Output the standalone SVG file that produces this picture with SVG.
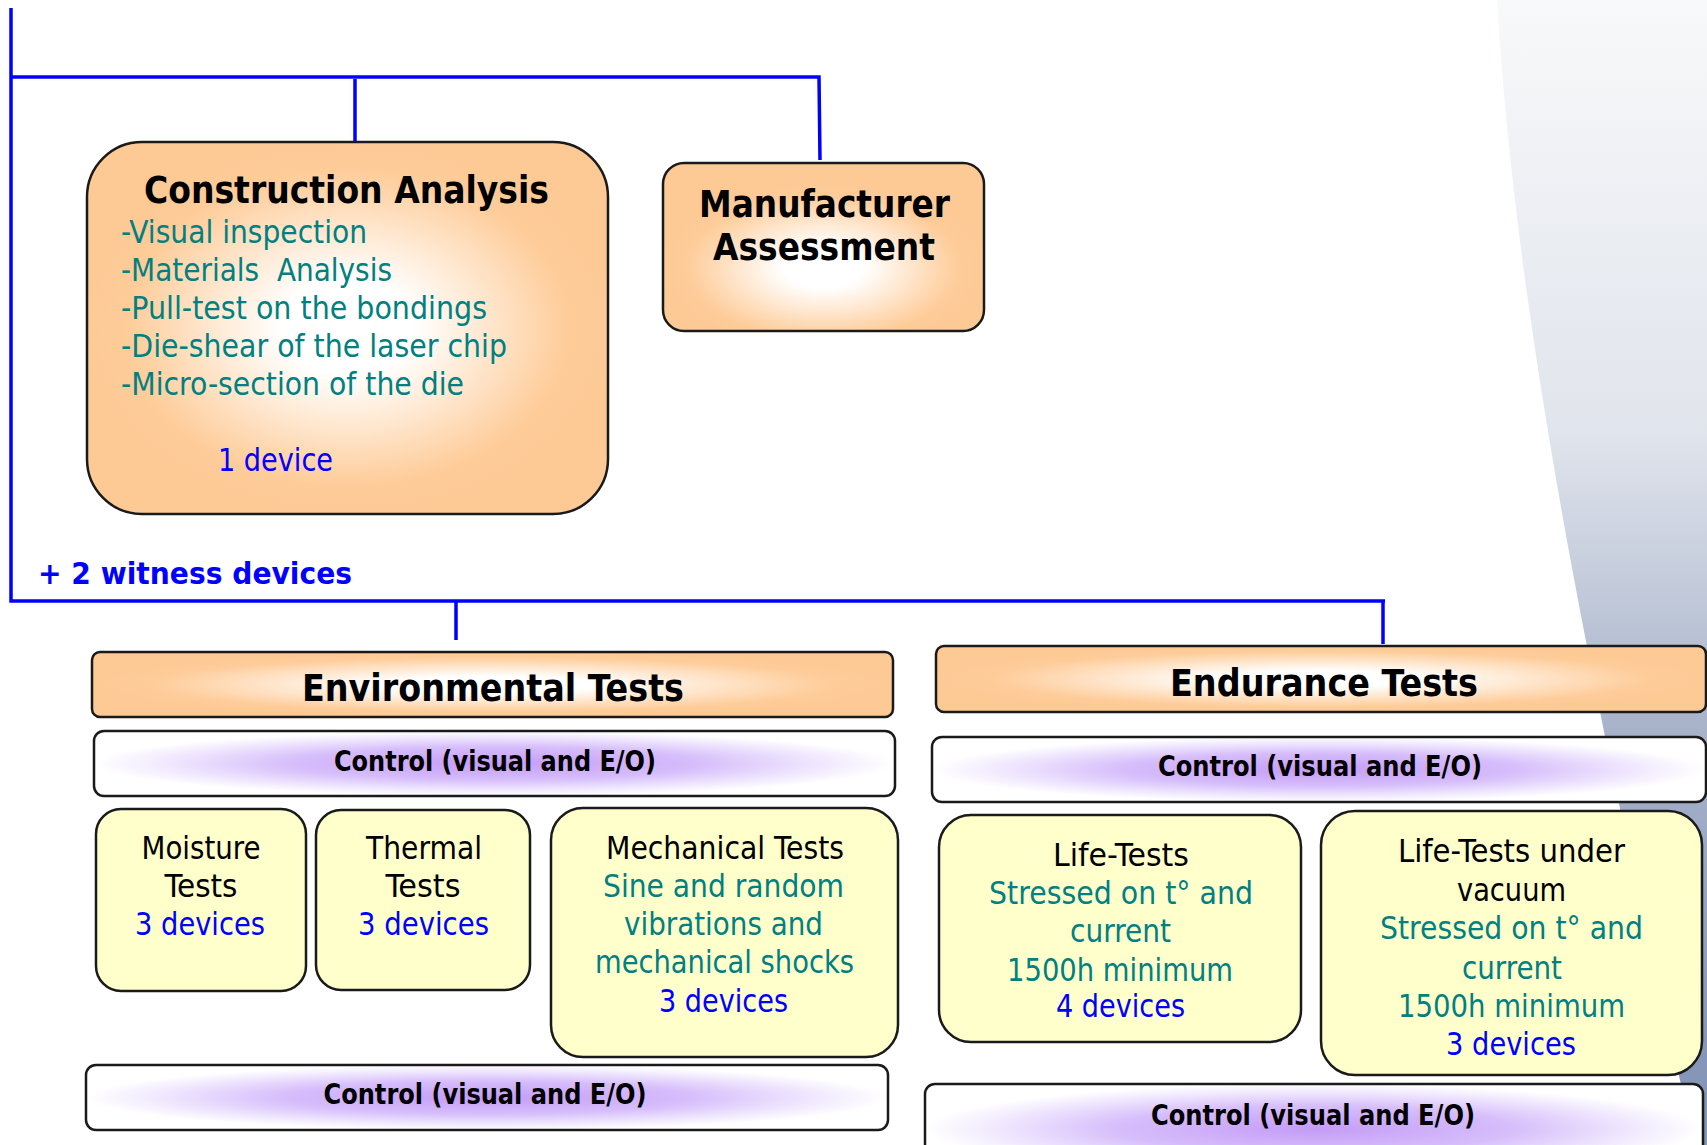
<svg xmlns="http://www.w3.org/2000/svg" width="1707" height="1145" viewBox="0 0 1707 1145">
  <defs>
    <linearGradient id="bgSweep" gradientUnits="userSpaceOnUse" x1="0" y1="0" x2="0" y2="1145">
      <stop offset="0" stop-color="#f8f9fa"/>
      <stop offset="0.38" stop-color="#e0e4ec"/>
      <stop offset="0.63" stop-color="#a9b4cb"/>
      <stop offset="0.93" stop-color="#8696b8"/>
    </linearGradient>
    <radialGradient id="peach" cx="0.5" cy="0.5" r="0.5">
      <stop offset="0" stop-color="#ffffff"/>
      <stop offset="0.25" stop-color="#ffffff"/>
      <stop offset="0.85" stop-color="#fecc99"/>
      <stop offset="1" stop-color="#fdca96"/>
    </radialGradient>
    <radialGradient id="peachLow" cx="0.5" cy="0.62" r="0.5">
      <stop offset="0" stop-color="#ffffff"/>
      <stop offset="0.25" stop-color="#ffffff"/>
      <stop offset="0.85" stop-color="#fecc99"/>
      <stop offset="1" stop-color="#fdca96"/>
    </radialGradient>
    <radialGradient id="lilac" cx="0.5" cy="0.5" r="0.5">
      <stop offset="0" stop-color="#c49cf6"/>
      <stop offset="0.5" stop-color="#d6bdfb"/>
      <stop offset="0.8" stop-color="#efe6fe"/>
      <stop offset="1" stop-color="#ffffff"/>
    </radialGradient>
    <style>
      .bold { font-family: "DejaVu Sans Condensed", "DejaVu Sans", sans-serif; font-weight: bold; }
      .reg { font-family: "DejaVu Sans Condensed", "DejaVu Sans", sans-serif; font-size: 32px; }
      .mid { text-anchor: middle; }
      .ink { fill: #000000; }
      .teal { fill: #008080; }
      .blue { fill: #0000ff; }
      .orange { fill: url(#peach); stroke: #1a1a1a; stroke-width: 2.5; }
      .control { fill: url(#lilac); stroke: #1a1a1a; stroke-width: 2.5; }
      .test { fill: #ffffcc; stroke: #1a1a1a; stroke-width: 2.5; }
      .title { font-size: 37px; }
      .ctl { font-size: 27.5px; }
      .wire { fill: none; stroke: #0000ff; stroke-width: 3.5; }
    </style>
  </defs>

  <!-- background sweep at the right edge -->
  <path d="M1497,0 C1515,300 1580,650 1695,1145 L1707,1145 L1707,0 Z" fill="url(#bgSweep)"/>

  <!-- connectors -->
  <g id="connectors">
    <path class="wire" d="M11,8 V601 H1385"/>
    <path class="wire" d="M11,77 H819 L820,160"/>
    <path class="wire" d="M355,79 V141"/>
    <path class="wire" d="M456,601 V640"/>
    <path class="wire" d="M1383,601 V644"/>
  </g>

  <g id="construction-analysis">
    <rect class="orange" x="87" y="142" width="521" height="372" rx="55"/>
    <text class="bold title mid ink" x="346.5" y="203" textLength="405" lengthAdjust="spacingAndGlyphs">Construction Analysis</text>
    <text class="reg teal" x="121" y="243" textLength="246" lengthAdjust="spacingAndGlyphs">-Visual inspection</text>
    <text class="reg teal" x="121" y="281" textLength="271" lengthAdjust="spacingAndGlyphs" xml:space="preserve">-Materials  Analysis</text>
    <text class="reg teal" x="121" y="319" textLength="366" lengthAdjust="spacingAndGlyphs">-Pull-test on the bondings</text>
    <text class="reg teal" x="121" y="357" textLength="386" lengthAdjust="spacingAndGlyphs">-Die-shear of the laser chip</text>
    <text class="reg teal" x="121" y="395" textLength="343" lengthAdjust="spacingAndGlyphs">-Micro-section of the die</text>
    <text class="reg blue" x="218" y="471" textLength="115" lengthAdjust="spacingAndGlyphs">1 device</text>
  </g>

  <g id="manufacturer-assessment">
    <rect x="663" y="163" width="321" height="168" rx="21" fill="url(#peachLow)" stroke="#1a1a1a" stroke-width="2.5"/>
    <text class="bold title mid ink" x="824.5" y="217" textLength="251" lengthAdjust="spacingAndGlyphs">Manufacturer</text>
    <text class="bold title mid ink" x="824" y="260" textLength="222" lengthAdjust="spacingAndGlyphs">Assessment</text>
  </g>

  <g id="witness-devices">
    <text class="bold blue" x="38" y="584" font-size="30" textLength="314" lengthAdjust="spacingAndGlyphs">+ 2 witness devices</text>
  </g>

  <!-- environmental branch -->
  <g id="environmental-tests">
    <rect class="orange" x="92" y="652" width="801" height="65" rx="8"/>
    <text class="bold title mid ink" x="493" y="701" textLength="382" lengthAdjust="spacingAndGlyphs">Environmental Tests</text>
  </g>

  <g id="env-control-before">
    <rect class="control" x="94" y="731" width="801" height="65" rx="10"/>
    <text class="bold ctl mid ink" x="495" y="771" textLength="322" lengthAdjust="spacingAndGlyphs">Control (visual and E/O)</text>
  </g>

  <g id="moisture-tests">
    <rect class="test" x="96" y="809" width="210" height="182" rx="25"/>
    <text class="reg mid ink" x="201" y="859" textLength="119" lengthAdjust="spacingAndGlyphs">Moisture</text>
    <text class="reg mid ink" x="201" y="897" textLength="73" lengthAdjust="spacingAndGlyphs">Tests</text>
    <text class="reg mid blue" x="200" y="935" textLength="130" lengthAdjust="spacingAndGlyphs">3 devices</text>
  </g>

  <g id="thermal-tests">
    <rect class="test" x="316" y="810" width="214" height="180" rx="25"/>
    <text class="reg mid ink" x="424" y="859" textLength="116" lengthAdjust="spacingAndGlyphs">Thermal</text>
    <text class="reg mid ink" x="423" y="897" textLength="75" lengthAdjust="spacingAndGlyphs">Tests</text>
    <text class="reg mid blue" x="423.5" y="935" textLength="131" lengthAdjust="spacingAndGlyphs">3 devices</text>
  </g>

  <g id="mechanical-tests">
    <rect class="test" x="551" y="808" width="347" height="249" rx="32"/>
    <text class="reg mid ink" x="725" y="859" textLength="238" lengthAdjust="spacingAndGlyphs">Mechanical Tests</text>
    <text class="reg mid teal" x="723.5" y="897" textLength="241" lengthAdjust="spacingAndGlyphs">Sine and random</text>
    <text class="reg mid teal" x="723.5" y="935" textLength="199" lengthAdjust="spacingAndGlyphs">vibrations and</text>
    <text class="reg mid teal" x="724.5" y="973" textLength="259" lengthAdjust="spacingAndGlyphs">mechanical shocks</text>
    <text class="reg mid blue" x="723.5" y="1012" textLength="129" lengthAdjust="spacingAndGlyphs">3 devices</text>
  </g>

  <g id="env-control-after">
    <rect class="control" x="86" y="1065" width="802" height="65" rx="10"/>
    <text class="bold ctl mid ink" x="485" y="1104" textLength="323" lengthAdjust="spacingAndGlyphs">Control (visual and E/O)</text>
  </g>

  <!-- endurance branch -->
  <g id="endurance-tests">
    <rect class="orange" x="936" y="646" width="770" height="66" rx="8"/>
    <text class="bold title mid ink" x="1324" y="696" textLength="308" lengthAdjust="spacingAndGlyphs">Endurance Tests</text>
  </g>

  <g id="end-control-before">
    <rect class="control" x="932" y="737" width="774" height="65" rx="10"/>
    <text class="bold ctl mid ink" x="1320" y="776" textLength="324" lengthAdjust="spacingAndGlyphs">Control (visual and E/O)</text>
  </g>

  <g id="life-tests">
    <rect class="test" x="939" y="815" width="362" height="227" rx="32"/>
    <text class="reg mid ink" x="1121" y="866" textLength="136" lengthAdjust="spacingAndGlyphs">Life-Tests</text>
    <text class="reg mid teal" x="1121" y="904" textLength="264" lengthAdjust="spacingAndGlyphs">Stressed on t° and</text>
    <text class="reg mid teal" x="1120.5" y="942" textLength="101" lengthAdjust="spacingAndGlyphs">current</text>
    <text class="reg mid teal" x="1120" y="981" textLength="226" lengthAdjust="spacingAndGlyphs">1500h minimum</text>
    <text class="reg mid blue" x="1120.5" y="1017" textLength="129" lengthAdjust="spacingAndGlyphs">4 devices</text>
  </g>

  <g id="life-tests-vacuum">
    <rect class="test" x="1321" y="811" width="381" height="264" rx="34"/>
    <text class="reg mid ink" x="1511.5" y="862" textLength="227" lengthAdjust="spacingAndGlyphs">Life-Tests under</text>
    <text class="reg mid ink" x="1511.5" y="901" textLength="109" lengthAdjust="spacingAndGlyphs">vacuum</text>
    <text class="reg mid teal" x="1511.5" y="939" textLength="263" lengthAdjust="spacingAndGlyphs">Stressed on t° and</text>
    <text class="reg mid teal" x="1512" y="979" textLength="100" lengthAdjust="spacingAndGlyphs">current</text>
    <text class="reg mid teal" x="1511.5" y="1017" textLength="227" lengthAdjust="spacingAndGlyphs">1500h minimum</text>
    <text class="reg mid blue" x="1511" y="1055" textLength="130" lengthAdjust="spacingAndGlyphs">3 devices</text>
  </g>

  <g id="end-control-after">
    <rect class="control" x="925" y="1084" width="778" height="90" rx="10"/>
    <text class="bold ctl mid ink" x="1313" y="1125" textLength="324" lengthAdjust="spacingAndGlyphs">Control (visual and E/O)</text>
  </g>
</svg>
